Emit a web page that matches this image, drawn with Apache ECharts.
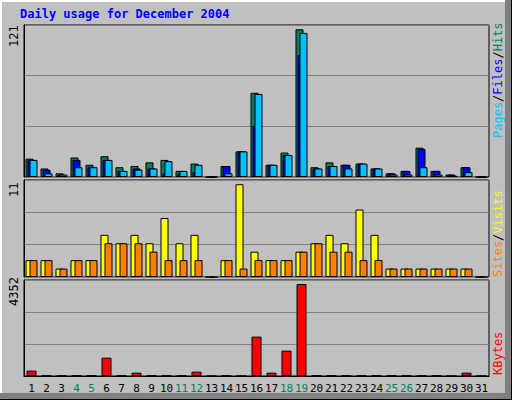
<!DOCTYPE html>
<html>
<head>
<meta charset="utf-8">
<script src="https://cdn.jsdelivr.net/npm/echarts@6/dist/echarts.min.js"></script>
<style>
  html, body { margin: 0; padding: 0; background: #c0c0c0; }
  #eChart { width: 512px; height: 400px; }
</style>
</head>
<body>
<div id="eChart"></div>
<script>
const days = ["1","2","3","4","5","6","7","8","9","10","11","12","13","14","15","16","17","18","19","20","21","22","23","24","25","26","27","28","29","30","31"];
const weekend = ["4","5","11","12","18","19","25","26"];
const hits   = [15,7,3,16,10,17,8,9,12,14,5,11,0,9,21,69,10,20,121,8,12,10,11,7,3,5,24,5,2,8,0];
const files  = [14,6,2,14,8,14,5,7,7,3,3,4,0,9,21,42,10,18,100,7,9,10,11,7,3,5,23,5,2,8,0];
const pages  = [14,3,2,8,8,14,5,6,7,13,5,10,0,3,21,68,10,18,118,7,9,7,11,7,2,2,8,2,1,4,0];
const visits = [2,2,1,2,2,5,4,5,4,7,4,5,0,2,11,3,2,2,3,4,5,4,8,5,1,1,1,1,1,1,0];
const sites  = [2,2,1,2,2,4,4,4,3,2,2,2,0,2,1,2,2,2,3,4,3,3,2,2,1,1,1,1,1,1,0];
const kbytes = [253,15,15,15,15,868,15,158,15,15,15,205,0,15,0,1864,158,1200,4352,15,15,15,15,15,15,15,15,15,0,158,0];
const maxLabels = ["121", "11", "4352"];

const font = "DejaVu Sans Mono";
const grids = [
  { left: 24, right: 23, top: 25, height: 152 },
  { left: 24, right: 23, top: 180, height: 97 },
  { left: 24, right: 23, top: 280, height: 96 }
];
const maxes = [124.5, 11.5, 4542];

function xAxis(i) {
  return {
    type: "category", gridIndex: i, data: days,
    axisLine: { show: i === 2, lineStyle: { color: "#000" } },
    axisTick: { show: false },
    axisLabel: {
      show: i === 2, interval: 0, fontFamily: font, fontSize: 11, margin: 7,
      color: (v) => weekend.includes(v) ? "#008060" : "#000"
    }
  };
}
function yAxis(i) {
  return {
    type: "value", gridIndex: i, min: 0, max: maxes[i], interval: maxes[i] / 3,
    axisLabel: { show: false },
    axisLine: { show: true, lineStyle: { color: "#000" } },
    splitLine: { lineStyle: { color: "#808080" } }
  };
}
function bars(data, color, x, width, gap) {
  return {
    type: "bar", data, xAxisIndex: x, yAxisIndex: x, barWidth: width, barGap: gap,
    itemStyle: { color, borderColor: "#000", borderWidth: 1 }, silent: true
  };
}
function upText(x, y, style) {
  return { type: "text", x, y, rotation: Math.PI / 2,
    style: { align: "left", verticalAlign: "middle", font: "12px " + font, ...style } };
}

const myChart = echarts.init(document.getElementById("eChart"), null, { renderer: "svg" });
myChart.setOption({
  backgroundColor: "#c0c0c0",
  animation: false,
  grid: grids.map(g => ({ ...g, show: true, borderColor: "#000", borderWidth: 1, backgroundColor: "#c0c0c0" })),
  xAxis: [0, 1, 2].map(xAxis),
  yAxis: [0, 1, 2].map(yAxis),
  series: [
    bars(hits, "#008060", 0, 8, "-75%"),
    bars(files, "#0000ff", 0, 8, "-75%"),
    bars(pages, "#00c0ff", 0, 8, "-75%"),
    bars(visits, "#ffff00", 1, 8, "-50%"),
    bars(sites, "#ff8000", 1, 8, "-50%"),
    bars(kbytes, "#ff0000", 2, 10, "0%")
  ],
  graphic: [
    { type: "rect", shape: { x: 0, y: 0, width: 512, height: 2 }, style: { fill: "#fff" } },
    { type: "rect", shape: { x: 0, y: 0, width: 2, height: 400 }, style: { fill: "#fff" } },
    { type: "rect", shape: { x: 505, y: 0, width: 7, height: 400 }, style: { fill: "#808080" } },
    { type: "rect", shape: { x: 0, y: 393, width: 512, height: 7 }, style: { fill: "#808080" } },
    { type: "rect", shape: { x: 511, y: 0, width: 1, height: 400 }, style: { fill: "#000" } },
    { type: "rect", shape: { x: 0, y: 399, width: 512, height: 1 }, style: { fill: "#000" } },
    { type: "text", left: 20, top: 8, style: { text: "Daily usage for December 2004", fill: "#0000ff", font: "bold 12px " + font } },
    upText(14, 47, { text: maxLabels[0], fill: "#000" }),
    upText(14, 197, { text: maxLabels[1], fill: "#000" }),
    upText(14, 306, { text: maxLabels[2], fill: "#000" }),
    upText(498, 138, {
      text: "{p|Pages}{s|/}{f|Files}{s|/}{h|Hits}",
      rich: { p: { fill: "#00c0ff", font: "12px " + font }, f: { fill: "#0000ff", font: "12px " + font },
              h: { fill: "#008060", font: "12px " + font }, s: { fill: "#000", font: "12px " + font } } }),
    upText(498, 277, {
      text: "{a|Sites}{s|/}{v|Visits}",
      rich: { a: { fill: "#ff8000", font: "12px " + font }, v: { fill: "#ffff00", font: "12px " + font },
              s: { fill: "#000", font: "12px " + font } } }),
    upText(498, 375, { text: "KBytes", fill: "#ff0000" })
  ]
});
</script>
</body>
</html>
